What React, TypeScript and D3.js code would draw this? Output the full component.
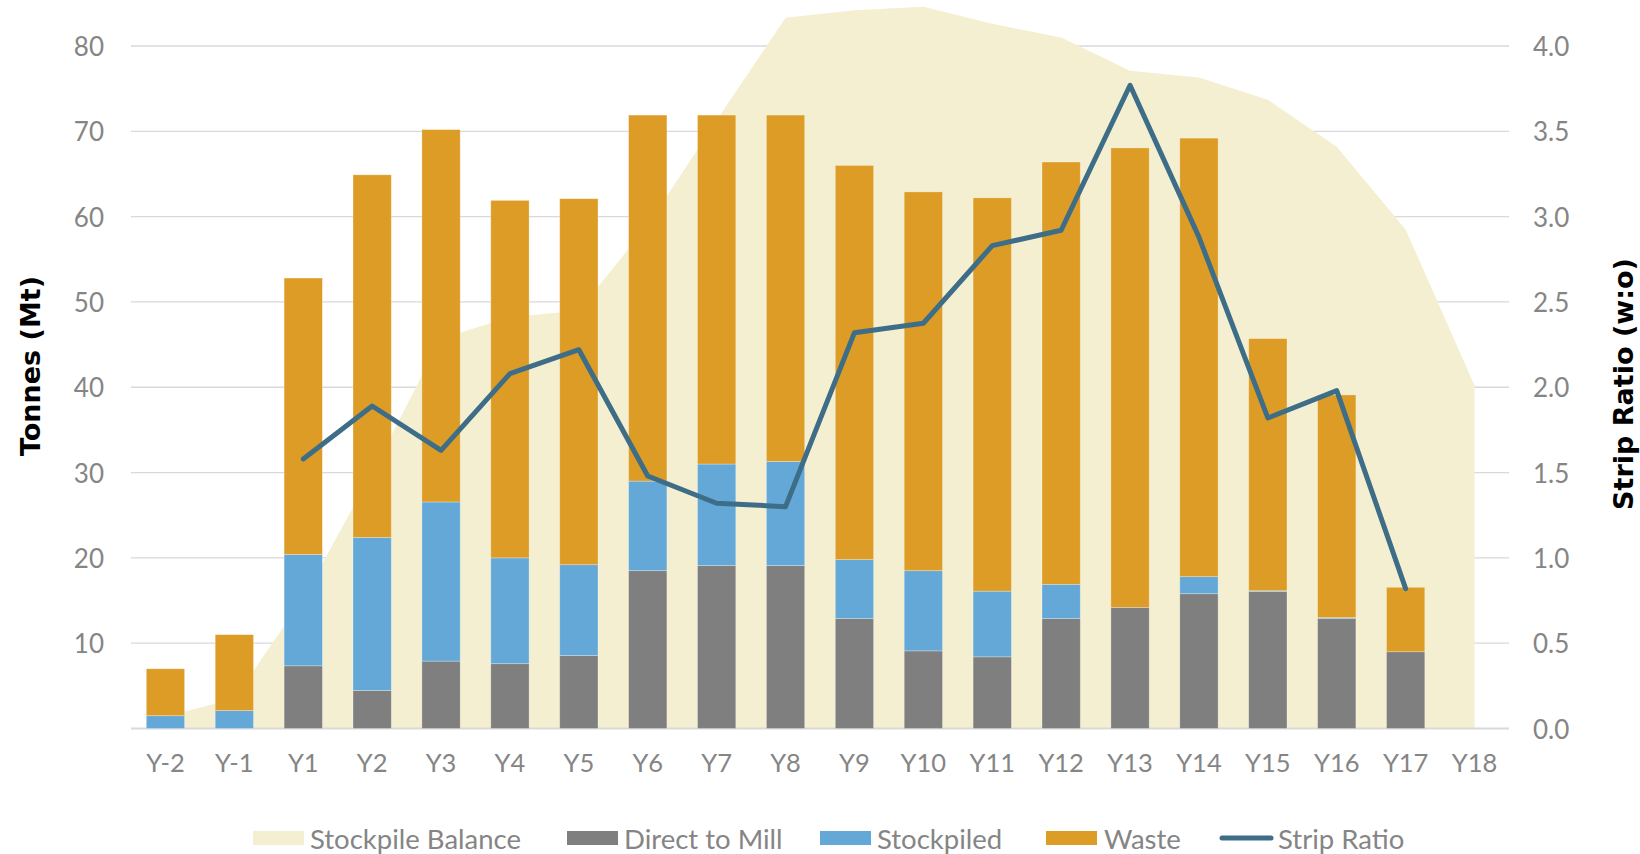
import React from "react";
import * as d3 from "d3";

const categories = ["Y-2","Y-1","Y1","Y2","Y3","Y4","Y5","Y6","Y7","Y8","Y9","Y10","Y11","Y12","Y13","Y14","Y15","Y16","Y17","Y18"];
const directToMill = [0, 0, 7.35, 4.45, 7.9, 7.6, 8.55, 18.5, 19.1, 19.1, 12.9, 9.1, 8.4, 12.9, 14.2, 15.8, 16.05, 12.9, 9.0, 0];
const stockpiled = [1.5, 2.1, 13.05, 17.95, 18.65, 12.4, 10.65, 10.5, 11.9, 12.2, 6.9, 9.4, 7.7, 4.0, 0, 2.0, 0.1, 0.1, 0, 0];
const waste = [5.5, 8.9, 32.4, 42.5, 43.65, 41.9, 42.9, 42.9, 40.9, 40.6, 46.2, 44.4, 46.1, 49.5, 53.85, 51.4, 29.55, 26.1, 7.55, 0];
const stockpileBalance = [1.4, 3.5, 15.3, 30.0, 45.7, 48.2, 49.0, 59.0, 71.3, 83.3, 84.2, 84.6, 82.6, 81.0, 77.1, 76.3, 73.7, 68.2, 58.5, 40.2];
const stripRatio: (number | null)[] = [null, null, 1.58, 1.89, 1.63, 2.08, 2.22, 1.48, 1.32, 1.30, 2.32, 2.375, 2.83, 2.92, 3.77, 2.88, 1.82, 1.98, 0.82, null];
const leftTicks = [10, 20, 30, 40, 50, 60, 70, 80];
const rightTicks = [0, 0.5, 1.0, 1.5, 2.0, 2.5, 3.0, 3.5, 4.0];
const seriesNames = ["Stockpile Balance", "Direct to Mill", "Stockpiled", "Waste", "Strip Ratio"];

const C = {
  area: "#f5efd1",
  mill: "#7f7f7f",
  stock: "#64a8d8",
  waste: "#dd9c25",
  line: "#3e6d87",
  grid: "#d9d9d9",
  text: "#858585",
};

const FONT = "Lato, 'Open Sans', sans-serif";
const TITLE_FONT = "'DejaVu Sans', sans-serif";

export default function App() {
  const W = 1640, H = 854;
  const x0 = 131, x1 = 1509, yTop = 46, yBot = 728.5;
  const x = d3.scaleBand<string>().domain(categories).range([x0, x1]).padding(0);
  const bw = x.bandwidth() / 1.8;
  const cx = (c: string) => (x(c) as number) + x.bandwidth() / 2;
  const yL = d3.scaleLinear().domain([0, 80]).range([yBot, yTop]);
  const yR = d3.scaleLinear().domain([0, 4]).range([yBot, yTop]);

  const areaGen = d3.area<number>()
    .x((_, i) => cx(categories[i]))
    .y0(yL(0))
    .y1((d) => yL(d));
  const lineGen = d3.line<number | null>()
    .defined((d) => d !== null)
    .x((_, i) => cx(categories[i]))
    .y((d) => yR(d as number));

  const stacks = categories.map((c, i) => {
    const segs = [
      { v: directToMill[i], color: C.mill },
      { v: stockpiled[i], color: C.stock },
      { v: waste[i], color: C.waste },
    ];
    let acc = 0;
    return segs.map((s) => {
      const r = { y0: acc, y1: acc + s.v, color: s.color };
      acc += s.v;
      return r;
    });
  });

  const legendItems = [
    { name: seriesNames[0], color: C.area, sx: 253, tx: 310 },
    { name: seriesNames[1], color: C.mill, sx: 567, tx: 624 },
    { name: seriesNames[2], color: C.stock, sx: 820, tx: 877 },
    { name: seriesNames[3], color: C.waste, sx: 1046, tx: 1104 },
  ];
  const ly = 838;

  return (
    <svg width={W} height={H} style={{ position: "absolute", left: 0, top: 0, background: "#fff" }} fontFamily={FONT}>
      {/* gridlines */}
      {leftTicks.map((t) => (
        <line key={"g" + t} x1={x0} x2={x1} y1={yL(t)} y2={yL(t)} stroke={C.grid} strokeWidth={1.3} />
      ))}
      {/* area */}
      <path d={areaGen(stockpileBalance) || ""} fill={C.area} />
      {/* baseline */}
      <line x1={x0} x2={x1} y1={yBot} y2={yBot} stroke={C.grid} strokeWidth={1.8} />
      {/* bars */}
      {categories.map((c, i) =>
        stacks[i].filter((s) => s.y1 - s.y0 > 0).map((s, j) => (
          <rect
            key={c + j}
            x={cx(c) - bw / 2}
            width={bw}
            y={yL(s.y1)}
            height={yL(s.y0) - yL(s.y1)}
            fill={s.color}
            stroke="#ffffff"
            strokeOpacity={0.35}
            strokeWidth={0.8}
          />
        ))
      )}
      {/* strip ratio line */}
      <path d={lineGen(stripRatio) || ""} fill="none" stroke={C.line} strokeWidth={5} strokeLinejoin="round" strokeLinecap="round" />
      {/* left ticks */}
      {leftTicks.map((t) => (
        <text key={"l" + t} x={104} y={yL(t)} textAnchor="end" dominantBaseline="central" fontSize={26} fill={C.text}>{t}</text>
      ))}
      {/* right ticks */}
      {rightTicks.map((t) => (
        <text key={"r" + t} x={1533} y={yR(t)} textAnchor="start" dominantBaseline="central" fontSize={26} fill={C.text}>{t.toFixed(1)}</text>
      ))}
      {/* x labels */}
      {categories.map((c) => (
        <text key={"x" + c} x={cx(c)} y={762} textAnchor="middle" dominantBaseline="central" fontSize={25.5} fill={C.text}>{c}</text>
      ))}
      {/* axis titles */}
      <text transform={`translate(30,366) rotate(-90)`} textAnchor="middle" dominantBaseline="central" fontFamily={TITLE_FONT} fontSize={27} fontWeight={700} fill="#000">Tonnes (Mt)</text>
      <text transform={`translate(1623,384) rotate(-90)`} textAnchor="middle" dominantBaseline="central" fontFamily={TITLE_FONT} fontSize={27} fontWeight={700} fill="#000">Strip Ratio (w:o)</text>
      {/* legend */}
      {legendItems.map((it) => (
        <g key={it.name}>
          <rect x={it.sx} y={ly - 7} width={51} height={14} fill={it.color} />
          <text x={it.tx} y={ly} dominantBaseline="central" fontSize={27.5} fill={C.text}>{it.name}</text>
        </g>
      ))}
      <line x1={1222} x2={1271} y1={ly} y2={ly} stroke={C.line} strokeWidth={5} strokeLinecap="round" />
      <text x={1278} y={ly} dominantBaseline="central" fontSize={27.5} fill={C.text}>{seriesNames[4]}</text>
    </svg>
  );
}
